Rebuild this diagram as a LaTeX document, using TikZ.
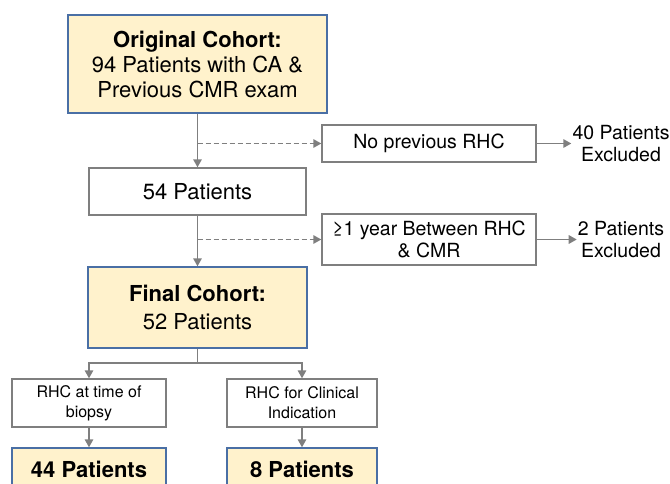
\documentclass[tikz,border=0pt]{standalone}
\usepackage{fontspec}
\setmainfont{TeX Gyre Heros}
\usetikzlibrary{arrows.meta}
\definecolor{cohortfill}{HTML}{FFF2CC}
\definecolor{cohortline}{HTML}{4A6FA5}
\definecolor{flowgray}{HTML}{7F7F7F}
\tikzset{
	cohort/.style={draw=cohortline, fill=cohortfill, line width=1.4pt, align=center, inner sep=0pt},
	whitebox/.style={draw=flowgray, fill=white, line width=1.4pt, align=center, inner sep=0pt},
	flow/.style={draw=flowgray, line width=1.6pt},
	flowarrow/.style={flow, -{Triangle[length=8pt,width=8.5pt]}},
	flowdash/.style={flowarrow, dash pattern=on 5pt off 3pt},
}

\begin{document}
\begin{tikzpicture}[x=1pt, y=-1pt]
		%%%%% START %%%%%
		
		\useasboundingbox (0, 0) rectangle (670, 483);
		\clip (0, 0) rectangle (670, 483);
		
		\node[cohort, minimum width=259pt, minimum height=98pt, font=\fontsize{22}{25}\selectfont] (orig) at (197.5, 64) {\textbf{Original Cohort:}\\94 Patients with CA \&\\Previous CMR exam};
		\node[whitebox, minimum width=217pt, minimum height=47pt, font=\fontsize{22}{25}\selectfont] (pat54) at (197.5, 191.5) {54 Patients};
		\node[cohort, minimum width=219pt, minimum height=81pt, font=\fontsize{22}{28}\selectfont] (final) at (197.5, 307.5) {\textbf{Final Cohort:}\\52 Patients};
		
		\node[whitebox, minimum width=214pt, minimum height=37pt, font=\fontsize{19.5}{22}\selectfont] (norhc) at (429, 143.5) {No previous RHC};
		\node[whitebox, minimum width=214pt, minimum height=51pt, font=\fontsize{19.5}{22}\selectfont] (year) at (429, 239.5) {≥1 year Between RHC\\\& CMR};
		\node[align=center, inner sep=1pt, font=\fontsize{19.5}{22}\selectfont] (excl40) at (621, 143.5) {40 Patients\\Excluded};
		\node[align=center, inner sep=1pt, font=\fontsize{19.5}{22}\selectfont] (excl2) at (621, 239.5) {2 Patients\\Excluded};
		
		\node[whitebox, minimum width=154pt, minimum height=48pt, font=\fontsize{16}{20}\selectfont] (biopsy) at (89, 403) {RHC at time of\\biopsy};
		\node[whitebox, minimum width=150pt, minimum height=48pt, font=\fontsize{16}{20}\selectfont] (clinical) at (302, 403) {RHC for Clinical\\Indication};
		\node[cohort, minimum width=154pt, minimum height=42pt, font=\fontsize{22}{25}\selectfont\bfseries] (pat44) at (89, 469) {44 Patients};
		\node[cohort, minimum width=150pt, minimum height=42pt, font=\fontsize{22}{25}\selectfont\bfseries] (pat8) at (302, 469) {8 Patients};
		
		% main column
		\draw[flowarrow] (orig.south) -- (pat54.north);
		\draw[flowarrow] (pat54.south) -- (final.north);
		
		% exclusions
		\coordinate (drop1) at (197.5, 143.5);
		\coordinate (drop2) at (197.5, 239.5);
		\draw[flowdash] (drop1) -- (norhc.west);
		\draw[flowdash] (drop2) -- (year.west);
		\draw[flowarrow] (norhc.east) -- (excl40.west);
		\draw[flowarrow] (year.east) -- (excl2.west);
		
		% split
		\coordinate (split) at (197.5, 363);
		\draw[flow] (final.south) -- (split);
		\draw[flowarrow] (split) -| (biopsy.north);
		\draw[flowarrow] (split) -| (clinical.north);
		\draw[flowarrow] (biopsy.south) -- (pat44.north);
		\draw[flowarrow] (clinical.south) -- (pat8.north);
		
		%%%%% END %%%%%
	\end{tikzpicture}
\end{document}
